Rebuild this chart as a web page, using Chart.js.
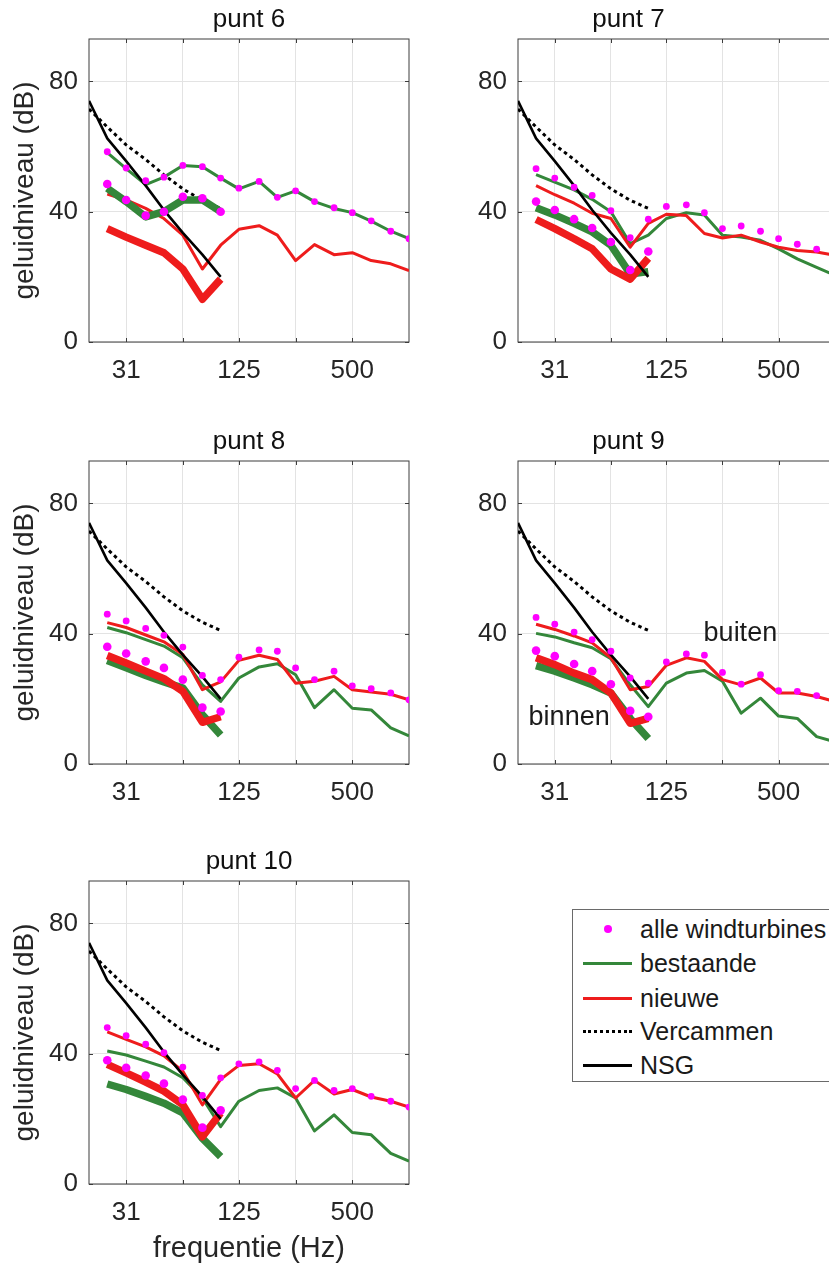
<!DOCTYPE html>
<html>
<head>
<meta charset="utf-8">
<script src="https://cdn.jsdelivr.net/npm/chart.js@4.4.0/dist/chart.umd.min.js"></script>
<style>
  html, body { margin: 0; padding: 0; background: #fff; width: 829px; height: 1270px; overflow: hidden; position: relative; }
  canvas { position: absolute; }
  #legend { position: absolute; left: 572px; top: 909px; width: 300px; height: 173px; border: 1px solid #6a6a6a; box-sizing: border-box;
            font-family: 'Liberation Sans', Arial, sans-serif; font-size: 25px; color: #1a1a1a; background: #fff; }
  #legend .item { position: absolute; left: 0; height: 30px; line-height: 30px; white-space: nowrap; }
  #legend .sample { position: absolute; left: 10px; width: 49px; top: 14px; }
  #legend .dot { position: absolute; left: 31px; top: 11px; width: 8px; height: 8px; border-radius: 50%; background: #ff00ff; }
  #legend .label { position: absolute; left: 67px; top: 0; }
</style>
</head>
<body>
<div id="legend"></div>
<script>
// third-octave bands (Hz)
const freqs = [25, 31.5, 40, 50, 63, 80, 100, 125, 160, 200, 250, 315, 400, 500, 630, 800, 1000];
const freqsBinnen = [25, 31.5, 40, 50, 63, 80, 100];
const freqsRef = [20, 25, 31.5, 40, 50, 63, 80, 100];

// reference curves
const nsg = [74, 62.5, 55.5, 48, 40.5, 33.5, 26.8, 20];
const vercammen = [71.5, 66, 60.5, 56, 51.3, 47, 43.5, 41];

// axis ticks
const xTicks = [31.5, 63, 125, 250, 500];
const xTickLabels = ['31', '', '125', '', '500'];
const yTicks = [0, 40, 80];

// punt 6
const p6Alle = [58.4, 53.4, 49.5, 50.6, 54.2, 53.8, 50.3, 47.2, 49.3, 44.4, 46.4, 43.1, 41.2, 39.7, 37.2, 34.0, 31.7];
const p6Bestaande = [58.1, 53.2, 48.3, 50.6, 54.2, 53.8, 50.3, 47.0, 49.3, 44.4, 46.4, 43.1, 41.0, 39.7, 37.1, 34.0, 31.7];
const p6Nieuwe = [45.4, 43.6, 41.0, 37.9, 32.8, 22.4, 29.7, 34.6, 35.7, 32.8, 25.0, 29.9, 26.8, 27.4, 25.0, 24.0, 21.9];
const p6AlleBinnen = [48.5, 43.6, 38.8, 40.0, 44.6, 44.1, 40.0];
const p6BestaandeBinnen = [47.2, 43.1, 38.4, 40.0, 43.6, 43.6, 40.0];
const p6NieuweBinnen = [34.8, 32.2, 29.7, 27.4, 22.4, 13.1, 19.3];

// punt 7
const p7Alle = [53.2, 50.3, 47.5, 45.0, 40.3, 32.0, 37.7, 41.6, 42.1, 39.7, 34.8, 35.6, 34.0, 31.7, 30.0, 28.5, 27.0];
const p7Bestaande = [51.4, 49.1, 46.7, 43.8, 40.0, 30.2, 32.8, 37.9, 39.7, 39.0, 32.8, 32.2, 31.2, 28.6, 25.5, 22.9, 20.5];
const p7Nieuwe = [48.0, 45.2, 42.6, 39.5, 37.9, 29.1, 36.4, 39.2, 38.8, 33.3, 31.9, 32.8, 30.7, 29.1, 28.1, 27.6, 26.6];
const p7AlleBinnen = [43.1, 40.5, 37.7, 35.0, 30.7, 22.1, 27.8];
const p7BestaandeBinnen = [41.2, 39.0, 36.4, 33.8, 29.7, 20.9, 21.6];
const p7NieuweBinnen = [37.6, 34.8, 31.7, 28.6, 22.4, 19.3, 25.7];

// punt 8
const p8Alle = [46.0, 43.9, 41.6, 39.5, 35.9, 27.2, 25.9, 32.8, 35.0, 34.6, 29.5, 25.9, 28.5, 24.0, 23.1, 21.8, 19.7];
const p8Bestaande = [41.9, 40.3, 38.2, 36.2, 32.6, 24.3, 19.2, 26.4, 29.8, 30.8, 27.4, 17.3, 22.8, 17.1, 16.6, 11.1, 8.6];
const p8Nieuwe = [43.4, 41.9, 39.6, 37.5, 33.6, 22.8, 25.2, 31.8, 33.4, 32.1, 24.8, 25.4, 26.9, 22.8, 22.1, 21.4, 19.7];
const p8AlleBinnen = [36.0, 33.9, 31.5, 29.5, 25.9, 17.3, 16.1];
const p8BestaandeBinnen = [31.8, 29.5, 27.2, 25.2, 23.3, 15.1, 8.9];
const p8NieuweBinnen = [33.3, 31.0, 28.5, 26.2, 22.3, 12.8, 14.5];

// punt 9
const p9Alle = [45.0, 42.9, 40.5, 38.2, 34.6, 26.4, 24.8, 31.3, 33.8, 33.4, 28.1, 24.5, 27.4, 22.5, 22.3, 21.0, 19.5];
const p9Bestaande = [40.1, 39.0, 37.2, 35.7, 32.3, 24.3, 17.6, 24.8, 27.9, 28.7, 25.4, 15.6, 20.2, 14.7, 14.0, 8.4, 6.8];
const p9Nieuwe = [42.9, 41.3, 39.3, 37.2, 32.6, 22.8, 23.8, 30.3, 32.6, 31.5, 25.9, 24.3, 26.4, 21.8, 21.8, 20.7, 19.2];
const p9AlleBinnen = [34.8, 33.1, 30.7, 28.5, 24.5, 16.3, 14.5];
const p9BestaandeBinnen = [30.2, 28.5, 26.4, 24.3, 21.8, 14.0, 7.8];
const p9NieuweBinnen = [32.6, 30.5, 27.9, 25.9, 21.8, 12.5, 14.0];

// punt 10
const p10Alle = [48.0, 45.5, 42.9, 40.3, 35.9, 27.2, 32.6, 36.9, 37.5, 34.9, 29.3, 31.8, 28.7, 29.3, 26.9, 25.4, 23.6];
const p10Bestaande = [40.8, 39.6, 37.7, 35.9, 32.6, 26.4, 17.6, 25.4, 28.7, 29.5, 26.4, 16.3, 21.2, 15.8, 15.1, 9.4, 7.0];
const p10Nieuwe = [46.7, 44.4, 42.1, 39.3, 34.6, 24.3, 32.1, 36.4, 36.9, 33.8, 26.4, 31.8, 27.6, 29.0, 26.7, 25.4, 23.6];
const p10AlleBinnen = [38.0, 35.7, 33.3, 30.8, 25.9, 17.3, 22.6];
const p10BestaandeBinnen = [30.7, 29.0, 26.9, 24.8, 21.8, 14.0, 8.4];
const p10NieuweBinnen = [36.7, 34.1, 31.3, 28.5, 24.3, 14.5, 21.8];

const MAGENTA = '#ff00ff';
const GREEN = '#34873a';
const RED = '#ee1c1c';
const BLACK = '#000000';
const TXT = '#262626';
const GRID = '#e3e3e3';

Chart.defaults.font.family = "'Liberation Sans', Arial, sans-serif";

// left column: title centred over the axes; right column: title sits left of centre, as in the source
const panels = [
    { title: 'punt 6', alle: p6Alle, bestaande: p6Bestaande, nieuwe: p6Nieuwe,
      alleBinnen: p6AlleBinnen, bestaandeBinnen: p6BestaandeBinnen, nieuweBinnen: p6NieuweBinnen,
      left: 0, top: 0, height: 400, yw: 89, padRight: 11, titleFull: false, yTitle: true, xTitle: false },
    { title: 'punt 7', alle: p7Alle, bestaande: p7Bestaande, nieuwe: p7Nieuwe,
      alleBinnen: p7AlleBinnen, bestaandeBinnen: p7BestaandeBinnen, nieuweBinnen: p7NieuweBinnen,
      left: 419, top: 0, height: 400, yw: 99, padRight: 1, titleFull: true, yTitle: false, xTitle: false },
    { title: 'punt 8', alle: p8Alle, bestaande: p8Bestaande, nieuwe: p8Nieuwe,
      alleBinnen: p8AlleBinnen, bestaandeBinnen: p8BestaandeBinnen, nieuweBinnen: p8NieuweBinnen,
      left: 0, top: 422, height: 400, yw: 89, padRight: 11, titleFull: false, yTitle: true, xTitle: false },
    { title: 'punt 9', alle: p9Alle, bestaande: p9Bestaande, nieuwe: p9Nieuwe,
      alleBinnen: p9AlleBinnen, bestaandeBinnen: p9BestaandeBinnen, nieuweBinnen: p9NieuweBinnen,
      left: 419, top: 422, height: 400, yw: 99, padRight: 1, titleFull: true, yTitle: false, xTitle: false,
      notes: [{ text: 'buiten', x: 198, y: 40 }, { text: 'binnen', x: 22.8, y: 14.2 }] },
    { title: 'punt 10', alle: p10Alle, bestaande: p10Bestaande, nieuwe: p10Nieuwe,
      alleBinnen: p10AlleBinnen, bestaandeBinnen: p10BestaandeBinnen, nieuweBinnen: p10NieuweBinnen,
      left: 0, top: 842, height: 428, yw: 89, padRight: 11, titleFull: false, yTitle: true, xTitle: true }
];

// box around the axes, inward tick marks and text notes
const framePlugin = {
    id: 'frame',
    beforeDatasetsDraw: function(chart) {
        var ctx = chart.ctx;
        var a = chart.chartArea;
        var sx = chart.scales.x, sy = chart.scales.y;
        ctx.save();
        ctx.strokeStyle = '#3c3c3c';
        ctx.lineWidth = 1;
        ctx.strokeRect(a.left, a.top, a.right - a.left, a.bottom - a.top);
        ctx.beginPath();
        xTicks.forEach(function(v) {
            var px = Math.round(sx.getPixelForValue(v)) + 0.5;
            ctx.moveTo(px, a.bottom); ctx.lineTo(px, a.bottom - 4);
            ctx.moveTo(px, a.top); ctx.lineTo(px, a.top + 4);
        });
        yTicks.forEach(function(v) {
            var py = Math.round(sy.getPixelForValue(v)) + 0.5;
            ctx.moveTo(a.left, py); ctx.lineTo(a.left + 4, py);
            ctx.moveTo(a.right, py); ctx.lineTo(a.right - 4, py);
        });
        ctx.stroke();
        ctx.restore();
    },
    afterDraw: function(chart) {
        var notes = chart.options.plugins.frame.notes || [];
        var ctx = chart.ctx;
        ctx.save();
        ctx.font = "27px 'Liberation Sans', Arial, sans-serif";
        ctx.fillStyle = '#1a1a1a';
        ctx.textBaseline = 'middle';
        ctx.textAlign = 'left';
        notes.forEach(function(n) {
            ctx.fillText(n.text, chart.scales.x.getPixelForValue(n.x), chart.scales.y.getPixelForValue(n.y));
        });
        ctx.restore();
    }
};

function pts(xs, ys) {
    return ys.map(function(y, i) { return { x: xs[i], y: y }; });
}

function lineSet(xs, ys, color, width, order, dash) {
    return {
        data: pts(xs, ys), borderColor: color, backgroundColor: color, borderWidth: width,
        borderDash: dash || [], pointRadius: 0, fill: false, tension: 0,
        borderJoinStyle: 'round', order: order
    };
}

function dotSet(xs, ys, radius) {
    return {
        data: pts(xs, ys), showLine: false, pointRadius: radius, pointBorderWidth: 0,
        pointBackgroundColor: MAGENTA, borderColor: MAGENTA, order: 0
    };
}

function makePanel(p) {
    var canvas = document.createElement('canvas');
    canvas.width = 420;
    canvas.height = p.height;
    canvas.style.left = p.left + 'px';
    canvas.style.top = p.top + 'px';
    document.body.appendChild(canvas);
    var xh = p.height - 39 - 303;

    new Chart(canvas.getContext('2d'), {
        type: 'line',
        data: {
            datasets: [
                dotSet(freqs, p.alle, 3.4),
                dotSet(freqsBinnen, p.alleBinnen, 4.3),
                lineSet(freqsRef, nsg, BLACK, 2.6, 1),
                lineSet(freqsBinnen, p.nieuweBinnen, RED, 7.5, 2),
                lineSet(freqsBinnen, p.bestaandeBinnen, GREEN, 7.5, 3),
                lineSet(freqs, p.nieuwe, RED, 3, 4),
                lineSet(freqs, p.bestaande, GREEN, 3, 5),
                lineSet(freqsRef, vercammen, BLACK, 3, 6, [3.5, 3.5])
            ]
        },
        options: {
            responsive: false,
            animation: false,
            devicePixelRatio: 1,
            layout: { padding: { left: 0, right: p.padRight, top: 0, bottom: 0 } },
            plugins: {
                legend: { display: false },
                tooltip: { enabled: false },
                title: {
                    display: true, text: p.title, color: '#111', fullSize: p.titleFull,
                    font: { size: 26, weight: 'normal' },
                    padding: { top: 4, bottom: 3.8 }
                },
                frame: { notes: p.notes || [] }
            },
            scales: {
                x: {
                    type: 'logarithmic', min: 20, max: 1000, bounds: 'data',
                    afterBuildTicks: function(s) { s.ticks = xTicks.map(function(v) { return { value: v }; }); },
                    afterFit: function(s) { s.height = xh; },
                    grid: { color: GRID, drawTicks: false },
                    border: { display: false },
                    ticks: {
                        autoSkip: false, maxRotation: 0, minRotation: 0, padding: 13,
                        color: TXT, font: { size: 26 },
                        callback: function(v, i) { return xTickLabels[i]; }
                    },
                    title: {
                        display: p.xTitle, text: 'frequentie (Hz)', color: TXT,
                        font: { size: 29 }, padding: { top: 0, bottom: 3.6 }
                    }
                },
                y: {
                    min: 0, max: 93, bounds: 'data',
                    afterBuildTicks: function(s) { s.ticks = yTicks.map(function(v) { return { value: v }; }); },
                    afterFit: function(s) { s.width = p.yw; },
                    grid: { color: GRID, drawTicks: false },
                    border: { display: false },
                    ticks: { padding: 11, color: TXT, font: { size: 26 } },
                    title: {
                        display: p.yTitle, text: 'geluidniveau (dB)', color: TXT,
                        font: { size: 28 }, padding: { top: 8, bottom: 0 }
                    }
                }
            }
        },
        plugins: [framePlugin]
    });
}

panels.forEach(makePanel);

// legend
const legendItems = [
    { label: 'alle windturbines', kind: 'dot' },
    { label: 'bestaande', kind: 'line', style: '3px solid ' + GREEN },
    { label: 'nieuwe', kind: 'line', style: '3px solid ' + RED },
    { label: 'Vercammen', kind: 'line', style: '3px dotted ' + BLACK },
    { label: 'NSG', kind: 'line', style: '3px solid ' + BLACK }
];
const legendRowCenters = [19, 52.5, 87.5, 121, 154.5];
var legend = document.getElementById('legend');
legendItems.forEach(function(item, i) {
    var row = document.createElement('div');
    row.className = 'item';
    row.style.top = (legendRowCenters[i] - 15) + 'px';
    if (item.kind === 'dot') {
        var d = document.createElement('span');
        d.className = 'dot';
        row.appendChild(d);
    } else {
        var s = document.createElement('span');
        s.className = 'sample';
        s.style.borderTop = item.style;
        row.appendChild(s);
    }
    var t = document.createElement('span');
    t.className = 'label';
    t.textContent = item.label;
    row.appendChild(t);
    legend.appendChild(row);
});
</script>
</body>
</html>
